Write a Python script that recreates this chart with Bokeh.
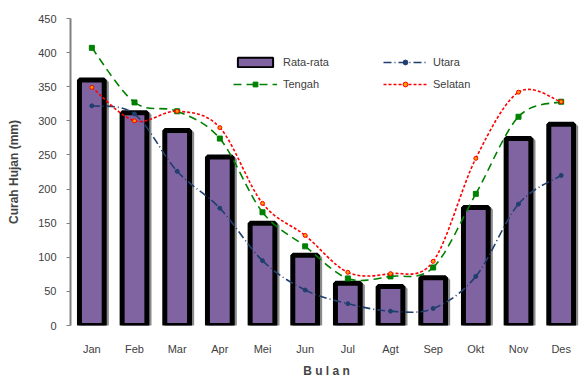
import numpy as np
from bokeh.plotting import figure
from bokeh.models import Range1d, FixedTicker, Legend, LegendItem
from bokeh.embed import file_html
from bokeh.resources import INLINE

months = ["Jan", "Feb", "Mar", "Apr", "Mei", "Jun", "Jul", "Agt", "Sep", "Okt", "Nov", "Des"]
rata_rata = [360, 312, 286, 247, 150, 103, 62, 57, 70, 173, 274, 295]
utara = [322, 310, 226, 172, 95, 52, 32, 21, 25, 72, 178, 220]
tengah = [407, 327, 314, 274, 166, 116, 69, 72, 85, 193, 306, 328]
selatan = [349, 300, 314, 290, 179, 132, 78, 76, 94, 245, 342, 328]
y_ticks = [0, 50, 100, 150, 200, 250, 300, 350, 400, 450]

FONT = "Liberation Sans"
xs = [i + 0.5 for i in range(len(months))]

p = figure(width=582, height=380, output_backend="svg", toolbar_location=None,
           x_range=Range1d(0, 12), y_range=Range1d(0, 450),
           min_border_left=70, min_border_right=0, min_border_top=18, min_border_bottom=50)
p.outline_line_color = None
p.xgrid.visible = False
p.ygrid.visible = False
p.background_fill_color = "white"
p.border_fill_color = "white"

# bars: shadow + main
sx = [x + 0.05 for x in xs]
st = [v - 3 for v in rata_rata]
p.vbar(x=sx, top=st, bottom=0, width=0.58, fill_color="#8c8c8c", line_color="#8c8c8c", line_width=5)
bars = p.vbar(x=xs, top=rata_rata, bottom=0, width=0.58, fill_color="#8064A2", line_color="black", line_width=5)

def smooth(vals):
    P = np.array(vals, float)
    X = np.array(xs, float)
    x0, x1, y0, y1 = X[:-1], X[1:], P[:-1], P[1:]
    xp = np.concatenate([[X[0]], X[:-2]]); yp = np.concatenate([[P[0]], P[:-2]])
    xn = np.concatenate([X[2:], [X[-1]]]); yn = np.concatenate([P[2:], [P[-1]]])
    cx0 = x0 + (x1 - xp) / 6; cy0 = y0 + (y1 - yp) / 6
    cx1 = x1 - (xn - x0) / 6; cy1 = y1 - (yn - y0) / 6
    return dict(x0=x0, y0=y0, x1=x1, y1=y1, cx0=cx0, cy0=cy0, cx1=cx1, cy1=cy1)

series = [
    ("Utara", utara, "#1F3F6E", "8 3 1 3", "circle", 4, "#1F3F6E", "#1F3F6E"),
    ("Tengah", tengah, "#008000", "8 5", "square", 5, "#008000", "#008000"),
    ("Selatan", selatan, "#FF0000", "3 2", "circle", 4, "#FF9900", "#FF0000"),
]
proxies = {}
for name, vals, col, dash, mk, sz, mfill, mline in series:
    d = smooth(vals)
    p.bezier(**d, line_color=col, line_width=1.6, line_dash=dash)
    sc = p.scatter(xs, vals, marker=mk, size=sz, fill_color=mfill, line_color=mline)
    ln = p.line(xs, vals, line_color=col, line_width=1.6, line_dash=dash, visible=False)
    proxies[name] = [ln, sc]

bar_proxy = p.vbar(x=xs, top=rata_rata, width=0.58, fill_color="#8064A2", line_color="black",
                   line_width=2, visible=False)

legend = Legend(items=[
    LegendItem(label="Rata-rata", renderers=[bar_proxy]),
    LegendItem(label="Tengah", renderers=proxies["Tengah"]),
    LegendItem(label="Utara", renderers=proxies["Utara"]),
    LegendItem(label="Selatan", renderers=proxies["Selatan"]),
], ncols=2, location=(163, 235))
legend.background_fill_alpha = 0
legend.border_line_color = None
legend.label_text_font = FONT
legend.label_text_font_size = "11px"
legend.label_text_color = "#404040"
legend.glyph_width = 44
legend.glyph_height = 12
legend.label_height = 12
legend.label_width = 90
legend.spacing = 10
legend.padding = 0
legend.margin = 0
legend.label_standoff = 6
p.add_layout(legend, "center")

# axes
xa = p.xaxis[0]
xa.ticker = FixedTicker(ticks=xs)
xa.major_label_overrides = {x: m for x, m in zip(xs, months)}
xa.axis_line_color = None
xa.major_tick_line_color = None
xa.major_tick_out = 0
xa.major_tick_in = 0
xa.minor_tick_line_color = None
xa.minor_tick_out = 0
xa.major_label_standoff = 17
xa.major_label_text_font = FONT
xa.major_label_text_font_size = "11px"
xa.major_label_text_color = "#404040"
xa.axis_label = "B u l a n"
xa.axis_label_text_font = FONT
xa.axis_label_text_font_style = "bold"
xa.axis_label_text_font_size = "12px"
xa.axis_label_standoff = 6

ya = p.yaxis[0]
ya.ticker = FixedTicker(ticks=y_ticks)
ya.axis_line_color = "#808080"
ya.axis_line_width = 2
ya.major_tick_line_color = "#808080"
ya.major_tick_out = 4
ya.major_tick_in = 0
ya.minor_tick_line_color = None
ya.major_label_standoff = 10
ya.major_label_text_font = FONT
ya.major_label_text_font_size = "11px"
ya.major_label_text_color = "#404040"
ya.axis_label = "Curah Hujan (mm)"
ya.axis_label_text_font = FONT
ya.axis_label_text_font_style = "bold"
ya.axis_label_text_font_size = "12px"
ya.axis_label_standoff = 14

open("out.html", "w").write(file_html(p, INLINE))
